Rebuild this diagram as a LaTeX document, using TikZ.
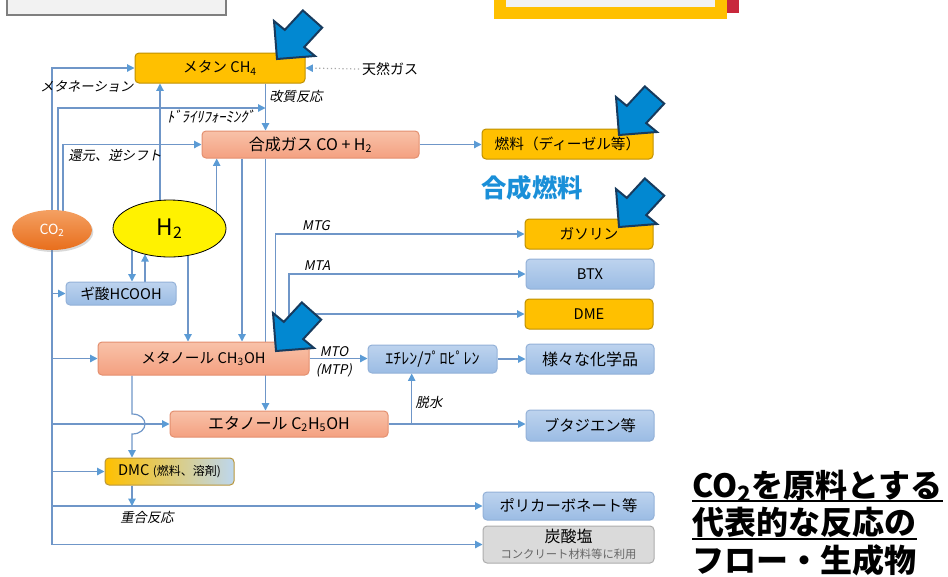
\documentclass[tikz,border=0pt]{standalone}
\usepackage{fontspec}
\setmainfont{Noto Sans CJK JP}
\newfontfamily\jpit[FakeSlant=0.2]{Noto Sans CJK JP}
\usetikzlibrary{arrows.meta,shapes.geometric,calc,backgrounds,shadows}
\definecolor{lineblue}{HTML}{6F96C8}
\definecolor{tipblue}{HTML}{5B9BD5}
\definecolor{yfill}{HTML}{FFC000}
\definecolor{ydraw}{HTML}{BF9000}
\definecolor{stopc}{HTML}{F8C2A9}
\definecolor{sbotc}{HTML}{F4A080}
\definecolor{sdraw}{HTML}{E38F6F}
\definecolor{btopc}{HTML}{BDD3EE}
\definecolor{bbotc}{HTML}{9BBCE4}
\definecolor{bdraw}{HTML}{93B1D8}
\definecolor{gfill}{HTML}{DADADA}
\definecolor{gdraw}{HTML}{ADADAD}
\definecolor{arrfill}{HTML}{0288D1}
\definecolor{arrdraw}{HTML}{173B5E}
\definecolor{titleblue}{HTML}{1A8FD8}
\definecolor{orangeA}{HTML}{F4A062}
\definecolor{orangeB}{HTML}{E86E1C}
\definecolor{panelgray}{HTML}{F2F2F2}
\definecolor{panelborder}{HTML}{7F7F7F}
\definecolor{crimson}{HTML}{C8283C}
\definecolor{dotgray}{HTML}{A6A6A6}
\definecolor{dmcblue}{HTML}{BDD7EE}
\definecolor{dmcdraw}{HTML}{B8963C}
\begin{document}
\begin{tikzpicture}[x=0.75pt,y=-0.75pt,
  sz/.style 2 args={minimum width={#1*0.75pt}, minimum height={#2*0.75pt}},
  box/.style={rounded corners=3pt, inner sep=0pt, line width=0.75pt, font=\fontsize{11}{13}\selectfont},
  ybox/.style={box, fill=yfill, draw=ydraw},
  sbox/.style={box, top color=stopc, bottom color=sbotc, draw=sdraw},
  bbox/.style={box, top color=btopc, bottom color=bbotc, draw=bdraw},
  gbox/.style={box, fill=gfill, draw=gdraw},
  conn/.style={draw=lineblue, line width=0.9pt, -{Triangle[length=5.5pt,width=5.5pt,color=tipblue]}},
  dotconn/.style={draw=dotgray, line width=0.9pt, dotted, -{Triangle[length=5.5pt,width=5.5pt,color=tipblue]}},
  lbl/.style={font=\jpit\fontsize{10}{12}\selectfont, inner sep=0pt},
  bigarrow/.style={fill=arrfill, draw=arrdraw, line width=1.5pt, line join=miter},
  titletext/.style={font=\bfseries\fontsize{24}{28}\selectfont, inner sep=0pt, anchor=base west}
]
\useasboundingbox (0,0) rectangle (948,576);

% partial panels at top
\filldraw[fill=panelgray, draw=panelborder, line width=1.5pt] (7,-10) rectangle (226,15);
\fill[yfill] (494,-10) rectangle (727,19);
\fill[panelgray] (506,-10) rectangle (715,7);
\fill[crimson] (727,-10) rectangle (739,13);

% boxes
\node[ybox, sz={170}{30}] (metan) at (220,68) {メタン CH\textsubscript{4}};
\node[sbox, sz={217}{27}, font=\fontsize{12}{14}\selectfont] (syngas) at (310.5,144.5) {合成ガス CO + H\textsubscript{2}};
\node[ybox, sz={171}{30}] (fuel) at (567.5,144) {燃料（ディーゼル等）};
\node[ybox, sz={128}{30}] (gasoline) at (589,234) {ガソリン};
\node[bbox, sz={128}{30}] (btx) at (590,274) {BTX};
\node[ybox, sz={128}{30}] (dme) at (589,314) {DME};
\node[bbox, sz={110}{23}] (gisan) at (121,293.5) {ギ酸HCOOH};
\node[sbox, sz={211}{33}] (methanol) at (203.5,358.5) {メタノール CH\textsubscript{3}OH};
\node[bbox, sz={129}{28}, font=\fontsize{12}{14}\selectfont] (ethylene) at (432.5,359) {ｴﾁﾚﾝ/ﾌﾟﾛﾋﾟﾚﾝ};
\node[bbox, sz={128}{30}, font=\fontsize{12}{14}\selectfont] (chem) at (590,359) {様々な化学品};
\node[sbox, sz={218}{26}, font=\fontsize{12}{14}\selectfont] (ethanol) at (279,424) {エタノール C\textsubscript{2}H\textsubscript{5}OH};
\node[bbox, sz={128}{31}, font=\fontsize{11.5}{14}\selectfont] (buta) at (590,425.5) {ブタジエン等};
\node[box, left color=yfill, right color=dmcblue, draw=dmcdraw, sz={129}{27}] (dmc) at (169.5,471.5) {DMC {\fontsize{9}{11}\selectfont (燃料、溶剤)}};
\node[bbox, sz={171}{28}, font=\fontsize{11.5}{14}\selectfont] (poly) at (568.5,506) {ポリカーボネート等};
\node[gbox, sz={171}{37}, align=center] (tansan) at (568.5,544.5) {{\fontsize{12}{13}\selectfont 炭酸塩}\\[-1pt]{\fontsize{8.5}{10}\selectfont\color{black!60} コンクリート材料等に利用}};

% ellipses
\node[ellipse, minimum width=60pt, minimum height=30pt, inner sep=0pt, top color=orangeA, bottom color=orangeB, draw=none,
  drop shadow={opacity=0.3, shadow xshift=1pt, shadow yshift=-1.5pt}, text=white, font=\fontsize{10.5}{12}\selectfont] (co2) at (52,230) {CO\textsubscript{2}};
\node[ellipse, minimum width=84.75pt, minimum height=42.75pt, inner sep=0pt, fill=yellow, draw=black, line width=0.6pt,
  font=\fontsize{17}{20}\selectfont] (h2) at (169.5,228.5) {H\textsubscript{2}};

% text labels
\node[inner sep=2pt, font=\fontsize{10.5}{12}\selectfont] (tennen) at (390,69) {天然ガス};
\node[lbl] (lmeth) at (87,86) {メタネーション};
\node[lbl, font=\jpit\fontsize{11}{12}\selectfont] (ldry) at (211,117) {ﾄﾞﾗｲﾘﾌｫｰﾐﾝｸﾞ};
\node[lbl] (lrws) at (115,155) {還元、逆シフト};
\node[lbl] (lref) at (296,96) {改質反応};
\node[lbl] (lmtg) at (316,226) {MTG};
\node[lbl] (lmta) at (317,266) {MTA};
\node[lbl] (lmto) at (334,352) {MTO};
\node[lbl] (lmtp) at (334,370) {(MTP)};
\node[lbl] (ldh) at (429,402) {脱水};
\node[lbl] (lpoly) at (147,517) {重合反応};
\node[font=\bfseries\fontsize{19}{22}\selectfont, text=titleblue, inner sep=0pt] (synfuel) at (532,188) {合成燃料};

% title
\node[titletext] (title1) at (692,497) {CO\textsubscript{2}を原料とする};
\node[titletext] (title2) at (692,534) {代表的な反応の};
\node[titletext] (title3) at (692,572) {フロー・生成物};
\draw[line width=1.6pt] ($(title1.base west)+(0,4)$) -- ($(title1.base east)+(0,4)$);
\draw[line width=1.6pt] ($(title2.base west)+(0,5)$) -- ($(title2.base east)+(0,5)$);

% x positions of vertical connectors
\coordinate (xdr) at (58,0);
\coordinate (xrs) at (63,0);
\coordinate (xgd) at (132,0);
\coordinate (xgu) at (145,0);
\coordinate (xh2m) at (160,0);
\coordinate (xh2me) at (188,0);
\coordinate (xh2s) at (216.7,0);
\coordinate (xsm) at (242,0);
\coordinate (xse) at (265.5,0);
\coordinate (xmtg) at (275.7,0);
\coordinate (xmta) at (289,0);
\coordinate (xdh) at (411.7,0);
\coordinate (ydr) at (0,108);
\coordinate (h2gu) at (145,254.2);

\begin{scope}[on background layer]
  % from CO2
  \draw[conn] (co2.center) |- (metan.west);
  \draw[conn] (co2.center -| xdr) |- (ydr -| xse);
  \draw[conn] (co2.center -| xrs) |- (syngas.west);
  \draw[conn] (co2.center) |- (tansan.west);
  \draw[conn] (co2.center |- gisan.west) -- (gisan.west);
  \draw[conn] (co2.center |- methanol.west) -- (methanol.west);
  \draw[conn] (co2.center |- ethanol.west) -- (ethanol.west);
  \draw[conn] (co2.center |- dmc.west) -- (dmc.west);
  \draw[conn] (co2.center |- poly.west) -- (poly.west);
  % from H2
  \draw[conn] (h2.center -| xh2m) -- (metan.south -| xh2m);
  \draw[conn] (h2.center -| xh2s) -- (syngas.south -| xh2s);
  \draw[conn] (h2.center -| xh2me) -- (methanol.north -| xh2me);
  \draw[conn] (h2.center -| xgd) -- (gisan.north -| xgd);
  \draw[conn] (gisan.north -| xgu) -- (h2gu);
  % methane / syngas
  \draw[dotconn] (tennen.west) -- (metan.east);
  \draw[conn] (metan.south -| xse) -- (syngas.north -| xse);
  \draw[conn] (syngas.south -| xsm) -- (methanol.north -| xsm);
  \draw[conn] (syngas.south -| xse) -- (ethanol.north -| xse);
  \draw[conn] (syngas.east) -- (syngas.east -| fuel.west);
  % methanol routes
  \draw[conn] (methanol.north -| xmtg) |- (gasoline.west);
  \draw[conn] (methanol.north -| xmta) |- (btx.west);
  \draw[conn] (methanol.north -| xmta) |- (dme.west);
  \draw[conn] (methanol.east) -- (methanol.east -| ethylene.west);
  \draw[conn] (ethylene.east) -- (ethylene.east -| chem.west);
  \draw[conn] (ethanol.east) -- (ethanol.east -| buta.west);
  \draw[conn] (ethanol.east -| xdh) -- (ethylene.south -| xdh);
  \draw[conn] (methanol.south -| xgd) -- ($(ethanol.west -| xgd)+(0,-10)$)
     .. controls ($(ethanol.west -| xgd)+(17.3,-10)$) and ($(ethanol.west -| xgd)+(17.3,10)$) .. ($(ethanol.west -| xgd)+(0,10)$)
     -- (dmc.north -| xgd);
  \draw[conn] (dmc.south -| xgd) -- (poly.west -| xgd);
\end{scope}

% big blue pointer arrows
\foreach \tx/\ty in {277/59, 619/135, 619/227, 276/351}
  \draw[bigarrow, shift={(\tx,\ty)}] (0,0) -- (38,-3) -- (27.2,-11.9) -- (45.2,-31.4) -- (25.8,-48.6) -- (7.8,-29.1) -- (-3,-38) -- cycle;
\end{tikzpicture}
\end{document}
